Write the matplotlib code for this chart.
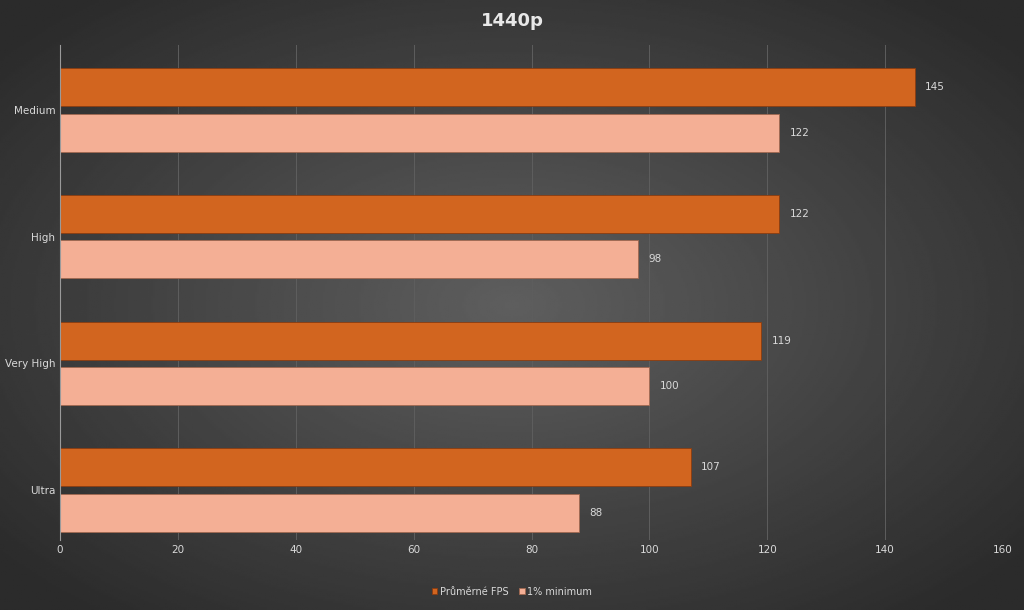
import numpy as np
import matplotlib.pyplot as plt

categories = ['Medium', 'High', 'Very High', 'Ultra']
avg_fps = [145, 122, 119, 107]
min_fps = [122, 98, 100, 88]
xticks = [0, 20, 40, 60, 80, 100, 120, 140, 160]

fig = plt.figure(figsize=(10.24, 6.1), dpi=100)

# radial gradient background
bg = fig.add_axes([0, 0, 1, 1])
yy, xx = np.mgrid[-1:1:300j, -1:1:500j]
r = np.sqrt(xx**2 + yy**2)
bg.imshow(0.37 - 0.2 * np.clip(r / 1.3, 0, 1), cmap='gray', vmin=0, vmax=1,
          aspect='auto', extent=[0, 1, 0, 1])
bg.axis('off')

ax = fig.add_axes([60 / 1024, 70 / 610, 943 / 1024, 495 / 610])
ax.patch.set_alpha(0)
y = np.arange(len(categories))
h = 0.30
b1 = ax.barh(y - 0.18, avg_fps, height=h, color='#D2651F', edgecolor='#8a3c10', linewidth=0.6)
b2 = ax.barh(y + 0.18, min_fps, height=h, color='#F4AF95', edgecolor='#a06850', linewidth=0.6)
for bars in (b1, b2):
    for bar in bars:
        w = bar.get_width()
        ax.text(w + 1.8, bar.get_y() + bar.get_height() / 2, str(int(w)),
                color='#d9d9d9', fontsize=7.5, va='center')

ax.set_ylim(3.395, -0.513)
ax.set_xlim(0, 160)
ax.set_xticks(xticks)
ax.set_yticks(y)
ax.set_yticklabels(categories)
ax.tick_params(colors='#d9d9d9', labelsize=7.5, length=0)
ax.xaxis.grid(True, color='#5e5e5e', linewidth=0.7)
ax.set_axisbelow(True)
for s in ['top', 'right', 'bottom']:
    ax.spines[s].set_visible(False)
ax.spines['left'].set_color('#9a9a9a')

fig.text(0.5, 0.965, '1440p', color='#e8e8e8', fontsize=13, fontweight='bold', ha='center', va='center')
fig.legend([b1, b2], ['Průměrné FPS', '1% minimum'], loc='center', bbox_to_anchor=(0.5, 0.03),
           ncol=2, frameon=False, labelcolor='#d9d9d9', fontsize=7, handlelength=0.6,
           handleheight=0.6, columnspacing=1.0, handletextpad=0.3)

fig.savefig('out.png', dpi=100)
